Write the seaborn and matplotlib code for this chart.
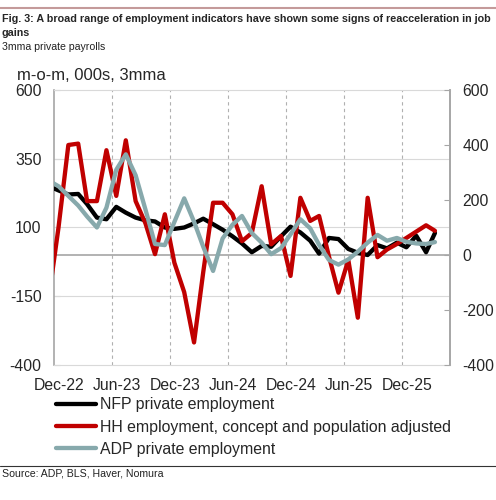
import pandas as pd
import numpy as np
import matplotlib
matplotlib.use("Agg")
import matplotlib.pyplot as plt
import matplotlib.dates as mdates
from matplotlib.transforms import ScaledTranslation
from matplotlib.lines import Line2D
import seaborn as sns

# monthly 3mma, dated mid-month (Nov-22 .. Mar-26); Nov-22 sits just left of the axis
months = pd.date_range("2022-11-01", "2026-03-01", freq="MS") + pd.Timedelta(days=14)
nfp = [250, 235, 220, 222, 185, 136, 130, 175, 154, 136, 126, 122, 100, 95, 100, 115,
       132, 112, 92, 68, 42, 10, 33, 30, 68, 103, 82, 52, 5, 62, 58, 22, 8, 0, 36, 24,
       45, 28, 70, 10, 80]
hh = [-150, 100, 400, 405, 196, 196, 381, 215, 417, 196, 115, 3, 148, -28, -135, -318,
      -62, 190, 190, 148, 50, 80, 250, 39, 69, -76, 208, 124, 142, -5, -137, -18, -228,
      208, -8, 20, 40, 62, 85, 108, 88]
adp = [270, 250, 215, 180, 140, 100, 172, 310, 366, 290, 165, 40, 36, 120, 206, 121, 30,
       -58, 60, 110, 142, 80, 45, 3, 25, 75, 130, 97, 37, -18, -35, -16, 12, 45, 73, 52,
       62, 48, 42, 40, 47]

names = ["NFP private employment",
         "HH employment, concept and population adjusted",
         "ADP private employment"]
colors = ["#000000", "#C00000", "#87A9AC"]
left_ticks = [-400, -150, 100, 350, 600]
right_ticks = [-400, -200, 0, 200, 400, 600]
xtick_dates = pd.date_range("2022-12-01", "2025-12-01", freq="6MS")

df = pd.DataFrame({"date": months, names[0]: nfp, names[1]: hh, names[2]: adp})
long = df.melt(id_vars="date", var_name="series", value_name="value")

sns.set_style("white")
plt.rcParams["font.family"] = ["Liberation Sans", "DejaVu Sans"]
plt.rcParams["axes.unicode_minus"] = False

fig = plt.figure(figsize=(4.96, 5.0), dpi=100)
ax = fig.add_axes([0.109, 0.27, 0.798, 0.55])

sns.lineplot(data=long, x="date", y="value", hue="series", hue_order=names,
             palette=colors, linewidth=3.1, legend=False, ax=ax, zorder=3)

ax.set_xlim(pd.Timestamp("2022-12-01"), pd.Timestamp("2026-05-01"))
ax.set_ylim(-400, 600)
ax.set_yticks(left_ticks)
ax.set_xticks(xtick_dates)
ax.xaxis.set_major_formatter(mdates.DateFormatter("%b-%y"))
ax.set_xlabel("")
ax.set_ylabel("")

ax.grid(False)
for t in left_ticks[1:-1]:
    ax.axhline(t, color="#D9D9D9", lw=0.8, zorder=1)
for d in xtick_dates[1:]:
    ax.axvline(d, color="#B0B0B0", lw=0.8, ls=(0, (3, 3)), zorder=1)
ax.axhline(0, color="#A6A6A6", lw=1.2, zorder=2)

for side in ["top", "bottom"]:
    ax.spines[side].set_color("#D9D9D9")
    ax.spines[side].set_linewidth(0.8)
for side in ["left", "right"]:
    ax.spines[side].set_color("#A6A6A6")
    ax.spines[side].set_linewidth(1.2)

ax.tick_params(axis="y", direction="in", length=4, color="#A6A6A6", labelsize=11.3, pad=9)
ax.tick_params(axis="x", length=0, labelsize=11.3, pad=9)
for lab in ax.get_xticklabels():
    lab.set_transform(lab.get_transform() + ScaledTranslation(0.05, 0, fig.dpi_scale_trans))

ax2 = ax.twinx()
ax2.set_ylim(-400, 600)
ax2.set_yticks(right_ticks)
ax2.tick_params(axis="y", direction="in", length=4, color="#A6A6A6", labelsize=11.3, pad=9)
for side in ["top", "bottom", "left"]:
    ax2.spines[side].set_visible(False)
ax2.spines["right"].set_color("#A6A6A6")
ax2.spines["right"].set_linewidth(1.2)

fig.text(0.035, 0.848, "m-o-m, 000s, 3mma", fontsize=12, va="center")

handles = [Line2D([], [], color=c, lw=3.1) for c in colors]
fig.legend(handles, names, loc="upper left", bbox_to_anchor=(0.113, 0.205),
           frameon=False, fontsize=11.4, handlelength=2.55, handletextpad=0.2,
           labelspacing=0.45, borderaxespad=0, borderpad=0)

fig.add_artist(Line2D([0, 1], [0.984, 0.984], color="#C49A9A", lw=1.5))
fig.text(0.004, 0.972, "Fig. 3: A broad range of employment indicators have shown some signs of reacceleration in job\ngains",
         fontsize=7.75, fontweight="bold", va="top", linespacing=1.45)
fig.text(0.004, 0.905, "3mma private payrolls", fontsize=7.6, va="center", color="#222222")
fig.add_artist(Line2D([0, 1], [0.068, 0.068], color="#333333", lw=0.8))
fig.text(0.004, 0.052, "Source: ADP, BLS, Haver, Nomura", fontsize=7.6, va="center", color="#222222")

fig.savefig("out.png", dpi=100)
